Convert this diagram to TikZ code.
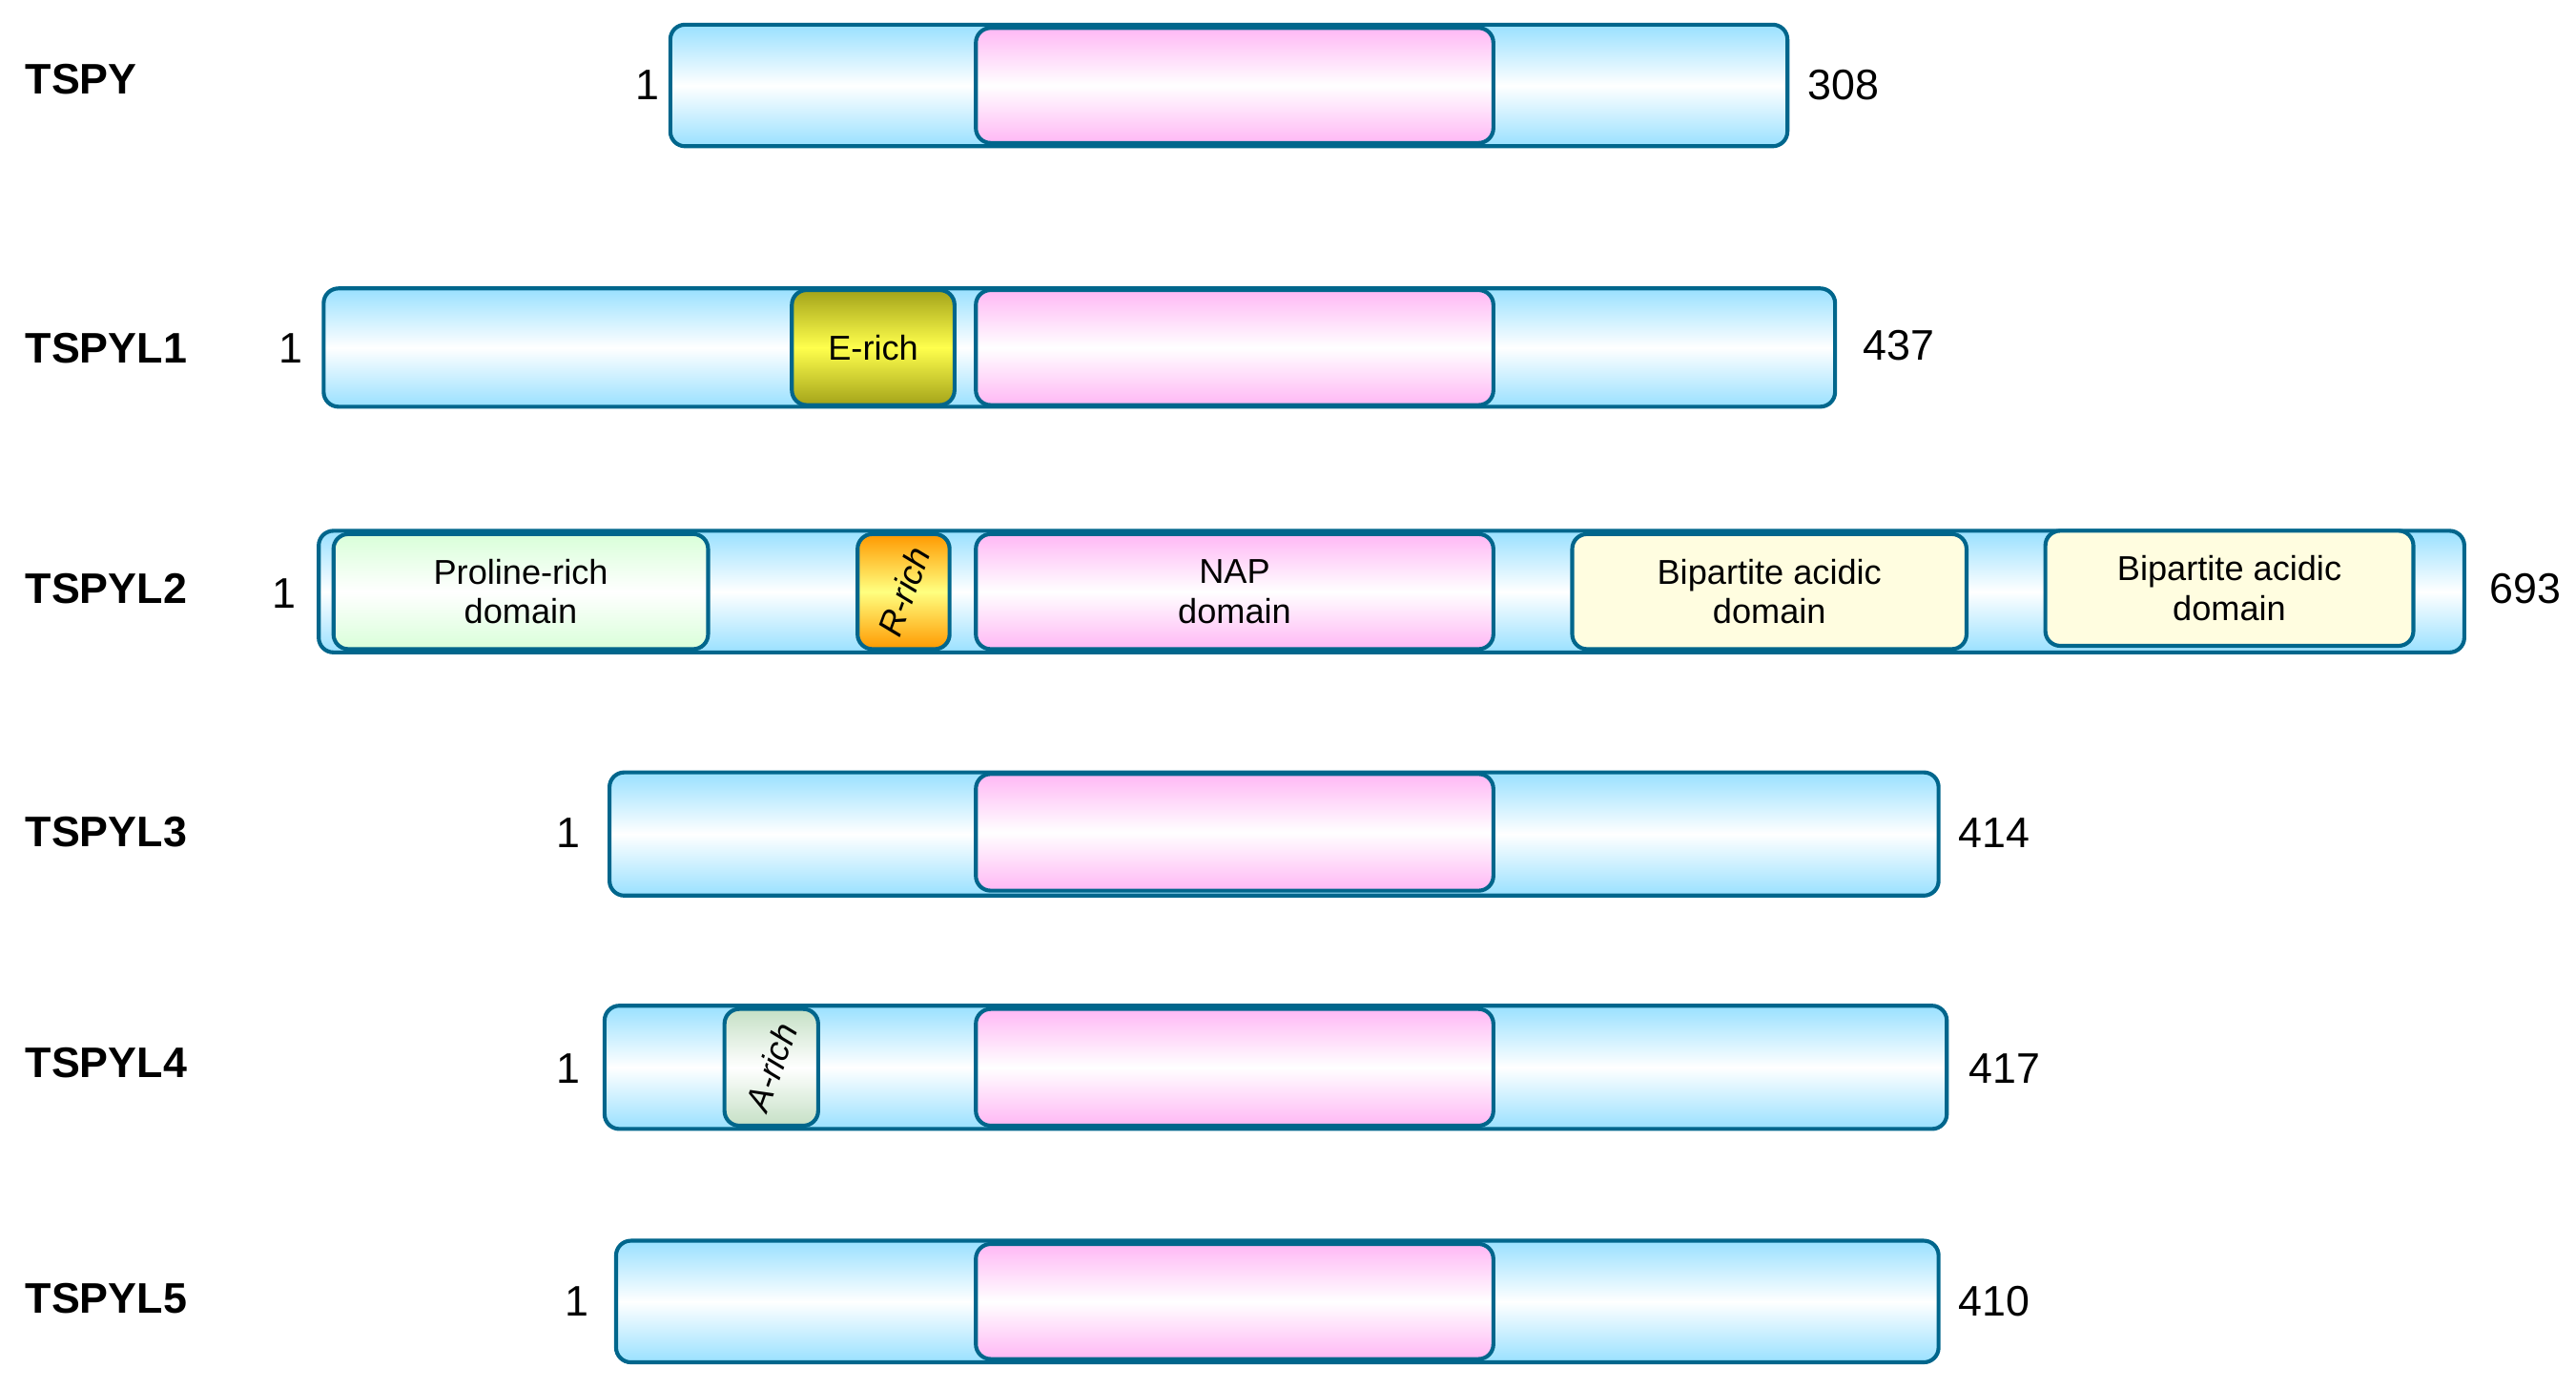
\documentclass[tikz,border=0pt]{standalone}
\usepackage{fontspec}
\setmainfont{Liberation Sans}
\begin{document}
\begin{tikzpicture}[x=1pt,y=-1pt,
  bar/.style={draw=black!75!blue!60!cyan, line width=2.4pt, rounded corners=9pt, top color=cyan!70!blue!40, bottom color=cyan!70!blue!40, middle color=white, inner sep=0pt},
  nap/.style={draw=black!75!blue!60!cyan, line width=2.4pt, rounded corners=9pt, top color=magenta!60!pink!40, bottom color=magenta!60!pink!40, middle color=white, inner sep=0pt, align=center, font=\fontsize{21}{24}\selectfont},
  dom/.style={draw=black!75!blue!60!cyan, line width=2.4pt, rounded corners=9pt, inner sep=0pt, align=center, font=\fontsize{21}{24}\selectfont},
  pname/.style={anchor=west, font=\fontsize{26}{30}\selectfont\bfseries},
  pnum/.style={font=\fontsize{26}{30}\selectfont}]
\useasboundingbox (0,0) rectangle (1568,845);
% TSPY
\node[pname] (n0) at (12,48) {TSPY};
\node[bar, minimum width=680pt, minimum height=74pt] (b0) at (748,52) {};
\node[nap, minimum width=315pt, minimum height=70pt] (p0) at (751.5,52) {};
\node[pnum] (s0) at (394,52) {1};
\node[pnum] (e0) at (1122,52) {308};
% TSPYL1
\node[pname] (n1) at (12,212) {TSPYL1};
\node[bar, minimum width=920pt, minimum height=72pt] (b1) at (657,211.5) {};
\node[dom, minimum width=99pt, minimum height=70pt, top color=yellow!60!black!90, bottom color=yellow!60!black!90, middle color=yellow!70!white] (er) at (531.5,211.5) {E-rich};
\node[nap, minimum width=315pt, minimum height=70pt] (p1) at (751.5,211.5) {};
\node[pnum] (s1) at (177,212) {1};
\node[pnum] (e1) at (1156,210) {437};
% TSPYL2
\node[pname] (n2) at (12,358) {TSPYL2};
\node[bar, minimum width=1306pt, minimum height=74pt] (b2) at (847,360) {};
\node[dom, minimum width=228pt, minimum height=70pt, top color=green!15, bottom color=green!15, middle color=white] (pr) at (317,360) {Proline-rich\\domain};
\node[dom, minimum width=56pt, minimum height=70pt, top color=orange!80!yellow, bottom color=orange!80!yellow, middle color=yellow!50] (rr) at (550,360) {};
\node[rotate=70, font=\fontsize{21}{24}\selectfont\itshape] (rrt) at (rr.center) {R-rich};
\node[nap, minimum width=315pt, minimum height=70pt] (p2) at (751.5,360) {NAP\\domain};
\node[dom, minimum width=240pt, minimum height=70pt, fill=yellow!12] (bp1) at (1077,360) {Bipartite acidic\\domain};
\node[dom, minimum width=224pt, minimum height=70pt, fill=yellow!12] (bp2) at (1357,358) {Bipartite acidic\\domain};
\node[pnum] (s2) at (173,361) {1};
\node[pnum] (e2) at (1537,358) {693};
% TSPYL3
\node[pname] (n3) at (12,506) {TSPYL3};
\node[bar, minimum width=809pt, minimum height=75pt] (b3) at (775.5,507.5) {};
\node[nap, minimum width=315pt, minimum height=71pt] (p3) at (751.5,506.5) {};
\node[pnum] (s3) at (346,507) {1};
\node[pnum] (e3) at (1214,507) {414};
% TSPYL4
\node[pname] (n4) at (12,647) {TSPYL4};
\node[bar, minimum width=817pt, minimum height=75pt] (b4) at (776.5,649.5) {};
\node[dom, minimum width=57pt, minimum height=71pt, top color=gray!70!green!35, bottom color=gray!70!green!35, middle color=white] (ar) at (469.5,649.5) {};
\node[rotate=70, font=\fontsize{21}{24}\selectfont\itshape] (art) at (ar.center) {A-rich};
\node[nap, minimum width=315pt, minimum height=71pt] (p4) at (751.5,649.5) {};
\node[pnum] (s4) at (346,650) {1};
\node[pnum] (e4) at (1220,650) {417};
% TSPYL5
\node[pname] (n5) at (12,790) {TSPYL5};
\node[bar, minimum width=805pt, minimum height=74pt] (b5) at (777.5,792) {};
\node[nap, minimum width=315pt, minimum height=70pt] (p5) at (751.5,792) {};
\node[pnum] (s5) at (351,792) {1};
\node[pnum] (e5) at (1214,792) {410};
\end{tikzpicture}
\end{document}
